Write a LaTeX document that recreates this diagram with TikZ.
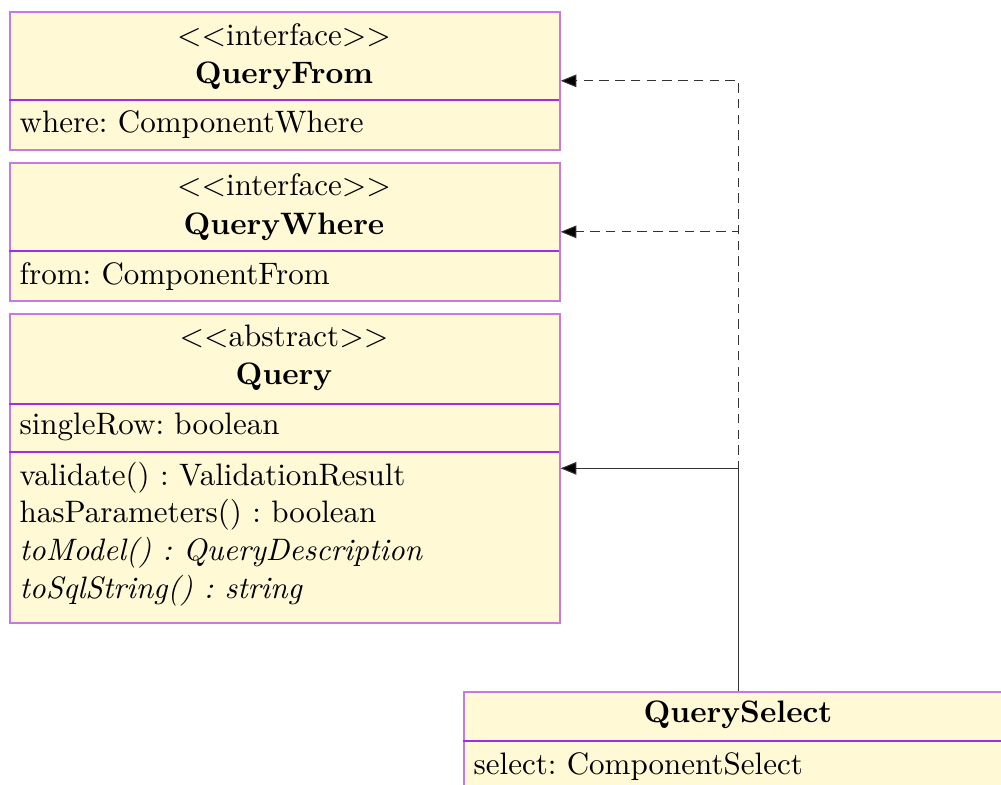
\documentclass[tikz,border=0pt]{standalone}
\usetikzlibrary{arrows.meta}
\definecolor{boxfill}{HTML}{FFF9D6}
\definecolor{boxline}{HTML}{C47ADE}
\definecolor{sepline}{HTML}{A12EE6}
\definecolor{linkgray}{HTML}{333333}
\newcommand{\stereo}[1]{$<<$#1$>>$}
\tikzset{
  classbox/.style={draw=boxline, fill=boxfill, line width=0.55pt, inner sep=0pt,
    anchor=north west, minimum width=174.6pt},
  sep/.style={draw=sepline, line width=0.35pt},
  centertext/.style={anchor=base, inner sep=0pt, font=\fontsize{9.85}{12}\selectfont\frenchspacing},
  lefttext/.style={anchor=base west, inner sep=0pt, font=\fontsize{9.85}{12}\selectfont\frenchspacing},
  realizes/.style={draw=linkgray, line width=0.35pt, dash pattern=on 3pt off 2pt,
    -{Triangle[length=5pt, width=4pt, fill=black]}},
  extends/.style={draw=linkgray, line width=0.35pt,
    -{Triangle[length=5pt, width=4pt, fill=black]}}
}
\begin{document}
\begin{tikzpicture}[x=0.3175pt, y=-0.3175pt]
\useasboundingbox (0,0) rectangle (1001,785);
\clip (0,0) rectangle (1001,785);

% QueryFrom
\node[classbox, minimum height=43.8pt] (from) at (9,11) {};
\draw[sep] (9,100) -- (559,100);
\node[centertext] (fromst) at (284,45) {\stereo{interface}};
\node[centertext] (fromname) at (284,83) {\textbf{QueryFrom}};
\node[lefttext] (fromattr) at (19,133) {where: ComponentWhere};

% QueryWhere
\node[classbox, minimum height=43.8pt] (where) at (9,162) {};
\draw[sep] (9,251) -- (559,251);
\node[centertext] (wherest) at (284,196) {\stereo{interface}};
\node[centertext] (wherename) at (284,234) {\textbf{QueryWhere}};
\node[lefttext] (whereattr) at (19,284) {from: ComponentFrom};

% Query
\node[classbox, minimum height=98.1pt] (query) at (9,313) {};
\draw[sep] (9,404) -- (559,404);
\draw[sep] (9,452) -- (559,452);
\node[centertext] (queryst) at (284,347) {\stereo{abstract}};
\node[centertext] (queryname) at (284,385) {\textbf{Query}};
\node[lefttext] (queryattr) at (19,435) {singleRow: boolean};
\node[lefttext] (qm1) at (19,485) {validate() : ValidationResult};
\node[lefttext] (qm2) at (19,523) {hasParameters() : boolean};
\node[lefttext] (qm3) at (19,561) {\textit{toModel() : QueryDescription}};
\node[lefttext] (qm4) at (19,599) {\textit{toSqlString() : string}};

% QuerySelect
\node[classbox, minimum height=50.8pt] (sel) at (463,691) {};
\draw[sep] (463,741) -- (1013,741);
\node[centertext] (selname) at (738,723) {\textbf{QuerySelect}};
\node[lefttext] (selattr) at (473,775) {select: ComponentSelect};

% relations
\draw[realizes] (sel.north) |- (from.east);
\draw[realizes] (sel.north) |- (where.east);
\draw[extends] (sel.north) |- (query.east);
\end{tikzpicture}
\end{document}
